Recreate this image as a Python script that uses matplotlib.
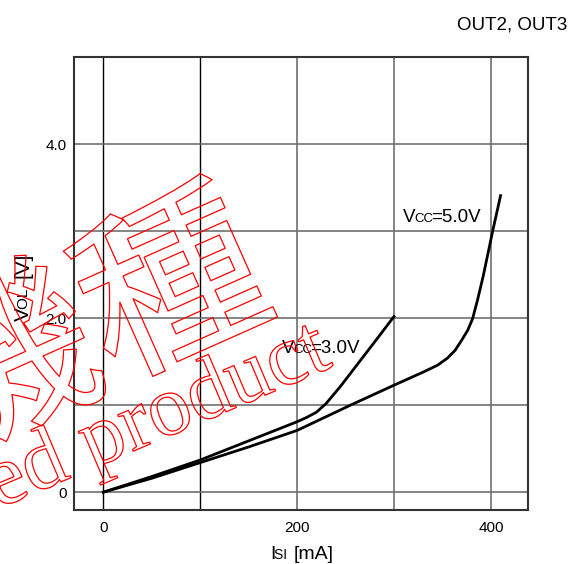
import matplotlib
matplotlib.use("Agg")
import matplotlib.pyplot as plt
import matplotlib.patheffects as pe
from matplotlib.transforms import IdentityTransform

plt.rcParams['font.family'] = ['Liberation Sans', 'DejaVu Sans']

# curve data
isi_3v = [0, 50, 100, 150, 200, 210, 220, 230, 245, 265, 285, 300]
vol_3v = [0, 0.18, 0.37, 0.59, 0.81, 0.86, 0.92, 1.02, 1.22, 1.51, 1.80, 2.02]
isi_5v = [0, 50, 100, 150, 200, 255, 300, 330, 345, 355, 363, 370, 376, 381, 386, 392, 402, 410]
vol_5v = [0, 0.16, 0.34, 0.52, 0.71, 1.00, 1.23, 1.38, 1.46, 1.54, 1.63, 1.75, 1.86, 1.99, 2.20, 2.48, 3.01, 3.41]

x_grid = [0, 100, 200, 300, 400]
y_grid = [0, 1, 2, 3, 4]
x_ticks = [0, 200, 400]
x_ticklabels = ["0", "200", "400"]
y_ticks = [0, 2, 4]
y_ticklabels = ["0", "2.0", "4.0"]

W, H = 579, 564
fig = plt.figure(figsize=(W / 100, H / 100), dpi=100)
ax = fig.add_axes([73.5 / W, 1 - 510 / H, (527.7 - 73.5) / W, (510 - 56.7) / H])
ax.set_xlim(-30.8, 438)
ax.set_ylim(-0.205, 5.007)

for xv in x_grid:
    if xv < 200:
        ax.axvline(xv, color="black", lw=1.0, zorder=1)
    else:
        ax.axvline(xv, color="#707070", lw=1.2, zorder=1)
for yv in y_grid:
    ax.axhline(yv, color="#707070", lw=1.2, zorder=1)

ax.plot(isi_3v, vol_3v, color="black", lw=2.0, zorder=3)
ax.plot(isi_5v, vol_5v, color="black", lw=2.0, zorder=3)

ax.set_xticks(x_ticks)
ax.set_xticklabels(x_ticklabels, fontsize=11)
ax.set_yticks(y_ticks)
ax.set_yticklabels(y_ticklabels, fontsize=11)
ax.tick_params(length=0)
ax.tick_params(axis="x", pad=8)
ax.tick_params(axis="y", pad=5)
for sp in ax.spines.values():
    sp.set_color("#333333")
    sp.set_linewidth(1.5)

renderer = fig.canvas.get_renderer()


def rich(x, y, parts, rot=0, gap=0):
    # x, y in picture pixels (y from top); parts drawn one after another on a baseline
    dx, dy = x, H - y
    for s, size in parts:
        t = fig.text(dx, dy, s, fontsize=size, ha="left", va="baseline",
                     rotation=rot, rotation_mode="anchor",
                     transform=IdentityTransform())
        bb = t.get_window_extent(renderer)
        step = (bb.width if rot == 0 else bb.height) - 1.5
        if s.endswith(" "):
            step += gap
        if rot == 0:
            dx += step
        else:
            dy += step


rich(403, 222, [("V", 13.5), ("CC", 9.5), ("=5.0V", 13.5)])
rich(282, 353, [("V", 13.5), ("CC", 9.5), ("=3.0V", 13.5)])
rich(270, 559, [("I", 14), ("SI ", 10), ("[mA]", 14)], gap=4)
rich(28.5, 321, [("V", 15), ("OL ", 11), ("[V]", 15)], rot=90, gap=8)

fig.text(567 / W, 1 - 29 / H, "OUT2, OUT3", fontsize=13.5, ha="right", va="baseline")

# watermark
outline = [pe.Stroke(linewidth=0.9, foreground="red")]
fig.text(258 / W, 1 - 257 / H, "廃止機種", fontsize=132, color="none",
         family=["Noto Sans CJK JP", "DejaVu Sans"], rotation=24,
         rotation_mode="anchor", ha="right", va="center", path_effects=outline)
fig.text(334 / W, 1 - 366 / H, "discontinued product", fontsize=62, color="none",
         family=["Liberation Serif", "DejaVu Serif"], rotation=23,
         rotation_mode="anchor", ha="right", va="baseline", path_effects=outline)

fig.savefig("out.png", dpi=100)
